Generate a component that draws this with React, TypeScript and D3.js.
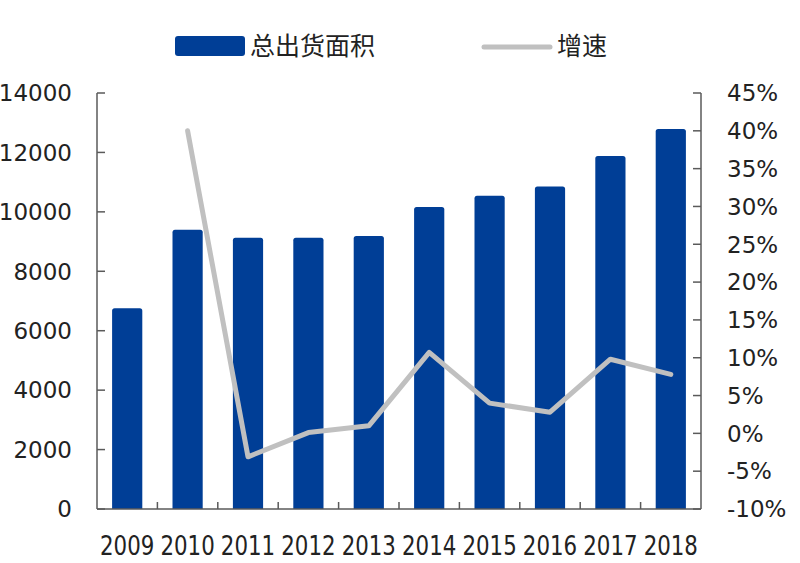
import React from "react";
import * as d3 from "d3";

const years = ["2009", "2010", "2011", "2012", "2013", "2014", "2015", "2016", "2017", "2018"];
const shipmentArea = [6760, 9400, 9130, 9130, 9190, 10160, 10540, 10850, 11880, 12790];
const growthYears = ["2010", "2011", "2012", "2013", "2014", "2015", "2016", "2017", "2018"];
const growthRate = [40.0, -3.1, 0.1, 1.0, 10.7, 4.0, 2.8, 9.8, 7.8];
const leftTicks = [0, 2000, 4000, 6000, 8000, 10000, 12000, 14000];
const rightTicks = [-10, -5, 0, 5, 10, 15, 20, 25, 30, 35, 40, 45];
const legendLabels = ["总出货面积", "增速"];

const W = 800;
const H = 563;
const left = 97;
const right = 701;
const top = 93;
const bottom = 509;
const barColor = "#003e96";
const lineColor = "#c0c0c0";
const axisColor = "#5a5a5a";
const textColor = "#222222";
const font = "'DejaVu Sans', Verdana, sans-serif";

export default function App() {
  const x = d3.scaleBand<string>().domain(years).range([left, right]).paddingInner(0.5).paddingOuter(0.25);
  const xc = (y: string) => (x(y) as number) + x.bandwidth() / 2;
  const yL = d3.scaleLinear().domain([0, 14000]).range([bottom, top]);
  const yR = d3.scaleLinear().domain([-10, 45]).range([bottom, top]);
  const step = (right - left) / years.length;

  const line = d3
    .line<number>()
    .x((_, i) => xc(growthYears[i]))
    .y((d) => yR(d));

  return (
    <svg width={W} height={H} style={{ position: "absolute", left: 0, top: 0, background: "#fff" }}>
      {/* bars */}
      {years.map((yr, i) => (
        <path
          key={yr}
          d={(() => {
            const bx = x(yr) as number;
            const bw = x.bandwidth();
            const by = yL(shipmentArea[i]);
            const r = 2.5;
            return `M${bx},${bottom} V${by + r} Q${bx},${by} ${bx + r},${by} H${bx + bw - r} Q${bx + bw},${by} ${bx + bw},${by + r} V${bottom} Z`;
          })()}
          fill={barColor}
        />
      ))}

      {/* line */}
      <path d={line(growthRate) || ""} fill="none" stroke={lineColor} strokeWidth={5} strokeLinejoin="round" strokeLinecap="round" />

      {/* left axis */}
      <line x1={left} x2={left} y1={top} y2={bottom} stroke={axisColor} strokeWidth={1.5} />
      {leftTicks.map((t) => (
        <g key={"l" + t}>
          <line x1={left} x2={left + 8} y1={yL(t)} y2={yL(t)} stroke={axisColor} strokeWidth={1.5} />
          <text x={72} y={yL(t)} dy="0.36em" textAnchor="end" fontSize={23} fontFamily={font} fill={textColor}>
            {t}
          </text>
        </g>
      ))}

      {/* right axis */}
      <line x1={right} x2={right} y1={top} y2={bottom} stroke={axisColor} strokeWidth={1.5} />
      {rightTicks.map((t) => (
        <g key={"r" + t}>
          <line x1={right - 8} x2={right} y1={yR(t)} y2={yR(t)} stroke={axisColor} strokeWidth={1.5} />
          <text x={727} y={yR(t)} dy="0.36em" textAnchor="start" fontSize={23} fontFamily={font} fill={textColor}>
            {t + "%"}
          </text>
        </g>
      ))}

      {/* x axis */}
      <line x1={left} x2={right} y1={bottom} y2={bottom} stroke={axisColor} strokeWidth={1.5} />
      {years.slice(1).map((yr, i) => (
        <line key={"t" + yr} x1={left + step * (i + 1)} x2={left + step * (i + 1)} y1={bottom} y2={bottom - 7} stroke={axisColor} strokeWidth={1.5} />
      ))}
      {years.map((yr) => (
        <text
          key={"x" + yr}
          x={xc(yr)}
          y={545}
          dy="0.36em"
          textAnchor="middle"
          fontSize={27}
          fontFamily={font}
          fill={textColor}
          transform={`translate(${xc(yr)},0) scale(0.79,1) translate(${-xc(yr)},0)`}
        >
          {yr}
        </text>
      ))}

      {/* legend */}
      <rect x={175} y={36} width={70} height={20} rx={3} fill={barColor} />
      <text x={250} y={46} dy="0.36em" fontSize={25} fontFamily="'Noto Sans CJK SC', sans-serif" fill={textColor}>
        {legendLabels[0]}
      </text>
      <line x1={484} x2={550} y1={47} y2={47} stroke={lineColor} strokeWidth={5} strokeLinecap="round" />
      <text x={557} y={46} dy="0.36em" fontSize={25} fontFamily="'Noto Sans CJK SC', sans-serif" fill={textColor}>
        {legendLabels[1]}
      </text>
    </svg>
  );
}
